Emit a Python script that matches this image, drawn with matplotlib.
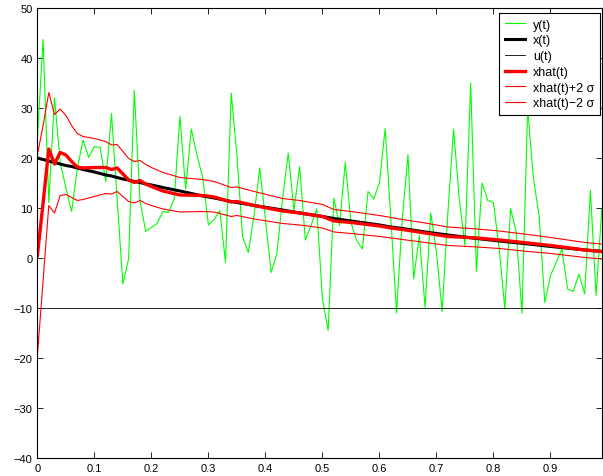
import matplotlib
matplotlib.use("Agg")
import matplotlib.pyplot as plt
import numpy as np

plt.rcParams['font.family'] = ['Liberation Sans', 'DejaVu Sans']

# measurement y(t), one sample every 0.01 s
t_y = np.arange(100) * 0.01
y_vals = [23.8, 43.7, 11.1, 32.1, 19.1, 14.0, 9.3, 17.8, 23.6, 20.1,
          22.3, 22.1, 15.3, 28.9, 11.6, -5.2, -0.2, 33.5, 11.5, 5.3,
          6.1, 6.9, 9.3, 9.1, 11.8, 28.3, 13.8, 25.8, 20.5, 16.1,
          6.6, 7.7, 9.5, -0.9, 33.0, 20.5, 4.2, 1.1, 8.5, 18.0,
          7.8, -2.9, 0.8, 11.8, 21.0, 9.5, 18.3, 3.6, 6.5, 9.8,
          -8.2, -14.5, 12.0, 6.5, 19.1, 7.1, 3.5, 1.8, 13.3, 11.8,
          15.1, 25.9, 7.8, -11.0, 7.8, 20.7, -4.2, 4.5, -9.9, 9.0,
          1.1, -10.7, 9.0, 25.8, 11.8, 2.5, 35.0, -2.7, 15.0, 11.5,
          11.1, 1.8, -10.2, 9.9, 5.1, -11.1, 29.9, 16.0, 8.5, -8.9,
          -3.5, -0.9, 1.8, -6.2, -6.7, -3.2, -7.2, 13.5, -7.5, 9.8]

# smooth curves, read at these instants
t_s = [0.00, 0.01, 0.02, 0.03, 0.04, 0.05, 0.06, 0.07, 0.08, 0.10,
       0.12, 0.13, 0.14, 0.15, 0.16, 0.17, 0.18, 0.19, 0.20, 0.22,
       0.25, 0.29, 0.31, 0.34, 0.35, 0.38, 0.43, 0.46, 0.50, 0.52,
       0.55, 0.60, 0.62, 0.64, 0.68, 0.72, 0.77, 0.81, 0.86, 0.90,
       0.96, 0.99]
x_vals = [20.0, 19.7, 19.4, 19.1, 18.8, 18.5, 18.3, 18.0, 17.7, 17.2,
          16.6, 16.4, 16.1, 15.8, 15.6, 15.3, 15.1, 14.8, 14.6, 14.1,
          13.4, 12.4, 12.0, 11.3, 11.1, 10.5, 9.6, 9.0, 8.3, 7.9,
          7.4, 6.6, 6.2, 5.9, 5.2, 4.6, 3.9, 3.4, 2.8, 2.3,
          1.6, 1.3]
xhat_vals = [0.5, 11.0, 21.8, 18.8, 21.1, 20.6, 19.3, 18.2, 18.0, 18.1,
             18.1, 17.7, 18.0, 16.8, 15.6, 15.1, 15.5, 14.8, 14.3, 13.4,
             12.6, 12.5, 12.2, 11.2, 11.3, 10.5, 9.4, 9.0, 8.3, 7.4,
             7.1, 6.4, 6.0, 5.7, 5.0, 4.3, 4.0, 3.6, 3.0, 2.5,
             1.6, 1.3]
upper_vals = [20.6, 26.5, 33.1, 28.7, 29.8, 28.5, 26.5, 24.9, 24.3, 23.9,
              23.3, 22.6, 22.7, 21.3, 19.9, 19.3, 19.5, 18.7, 18.1, 17.1,
              16.1, 15.7, 15.3, 14.1, 14.2, 13.3, 11.9, 11.5, 10.7, 9.7,
              9.3, 8.5, 8.1, 7.7, 7.0, 6.2, 5.8, 5.4, 4.7, 4.1,
              3.1, 2.8]
lower_vals = [-19.6, -4.5, 10.5, 9.0, 12.5, 12.7, 12.1, 11.5, 11.7, 12.3,
              12.9, 12.8, 13.3, 12.3, 11.3, 11.0, 11.5, 10.9, 10.5, 9.8,
              9.2, 9.3, 9.2, 8.3, 8.5, 7.8, 6.9, 6.6, 6.0, 5.2,
              4.9, 4.3, 4.0, 3.7, 3.1, 2.5, 2.2, 1.9, 1.3, 0.9,
              0.1, -0.2]

# input u(t), constant
t_u = [0.0, 0.99]
u_vals = [-10, -10]

fig = plt.figure(figsize=(6.03, 4.77), dpi=100)
ax = fig.add_axes([0.062, 0.038, 0.936, 0.943])

ax.plot(t_y, y_vals, color='#00ff00', lw=0.8, label='y(t)')
ax.plot(t_s, x_vals, color='black', lw=2.2, label='x(t)')
ax.plot(t_u, u_vals, color='black', lw=0.6, label='u(t)')
ax.plot(t_s, xhat_vals, color='red', lw=2.4, label='xhat(t)')
ax.plot(t_s, upper_vals, color='red', lw=0.8, label='xhat(t)+2 σ')
ax.plot(t_s, lower_vals, color='red', lw=0.8, label='xhat(t)\u22122 σ')

ax.set_xlim(0, 0.99)
ax.set_ylim(-40, 50)
ax.set_xticks(np.arange(0, 1.0, 0.1))
ax.set_xticklabels(['0', '0.1', '0.2', '0.3', '0.4', '0.5', '0.6', '0.7', '0.8', '0.9'])
ax.set_yticks(range(-40, 51, 10))
ax.tick_params(direction='in', top=True, right=True, labelsize=8, length=4.5, width=0.6)
for s in ax.spines.values():
    s.set_linewidth(0.8)

leg = ax.legend(loc='upper right', bbox_to_anchor=(0.9965, 0.989), borderaxespad=0,
                fontsize=9, fancybox=False, framealpha=1, edgecolor='black',
                handlelength=1.65, handletextpad=0.6, labelspacing=0.3, borderpad=0.45)
leg.get_frame().set_linewidth(0.8)

fig.savefig('out.png', dpi=100)
